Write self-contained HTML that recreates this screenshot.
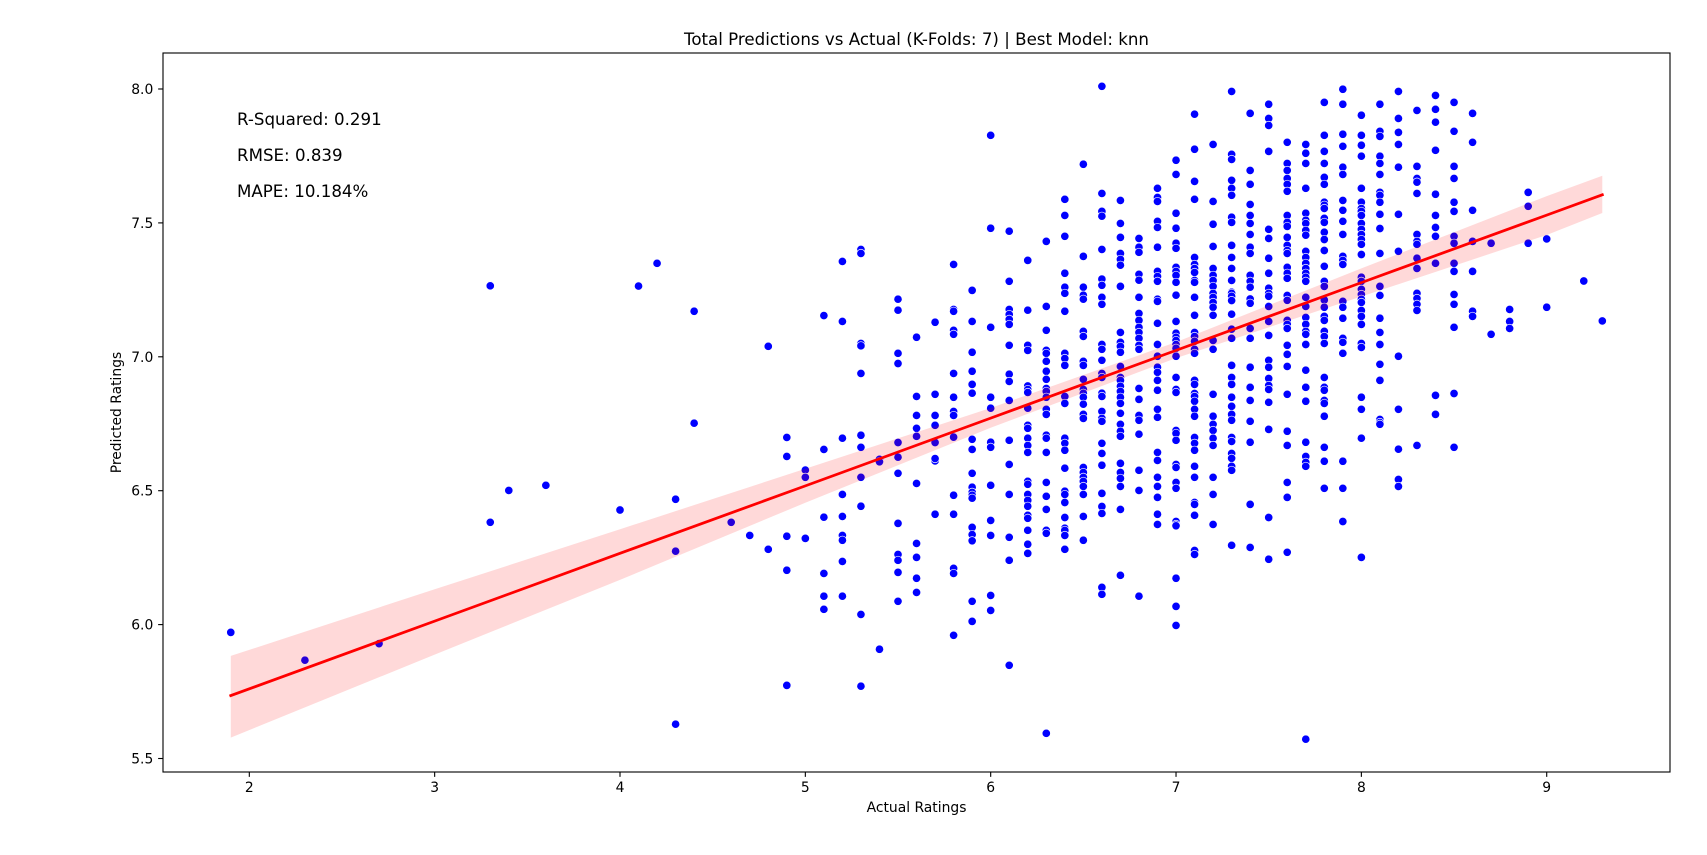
<!DOCTYPE html>
<html lang="en">
<head>
<meta charset="utf-8">
<title>Total Predictions vs Actual</title>
<style>
html,body{margin:0;padding:0;background:#fff;}
svg{display:block;}
text{font-family:"DejaVu Sans","Liberation Sans",sans-serif;fill:#000;}
</style>
</head>
<body>
<svg id="chart" xmlns="http://www.w3.org/2000/svg" width="1707" height="855" viewBox="0 0 1707 855">
  <rect x="0" y="0" width="1707" height="855" fill="#fff"/>
  <text x="916.5" y="45" font-size="16.67" text-anchor="middle">Total Predictions vs Actual (K-Folds: 7) | Best Model: knn</text>
  <g id="marks"></g>
  <rect x="163" y="53" width="1507" height="719" fill="none" stroke="#000" stroke-width="1.11"/>
  <g id="ticks"></g>
  <text x="916.5" y="812" font-size="13.89" text-anchor="middle">Actual Ratings</text>
  <text x="121" y="412.5" font-size="13.89" text-anchor="middle" transform="rotate(-90 121 412.5)">Predicted Ratings</text>
  <text x="237" y="125" font-size="16.67">R-Squared: 0.291</text>
  <text x="237" y="161" font-size="16.67">RMSE: 0.839</text>
  <text x="237" y="197" font-size="16.67">MAPE: 10.184%</text>
</svg>
<script>
const xTickLabels = ["2","3","4","5","6","7","8","9"];
const yTickLabels = ["5.5","6.0","6.5","7.0","7.5","8.0"];

const actualRatings = [1.9,2.3,2.7,3.3,3.4,3.6,4.0,4.1,4.2,4.3,4.4,4.6,4.7,4.8,4.9,5.0,5.1,5.2,5.3,5.4,5.5,5.6,5.7,5.8,5.9,6.0,6.1,6.2,6.3,6.4,6.5,6.6,6.7,6.8,6.9,7.0,7.1,7.2,7.3,7.4,7.5,7.6,7.7,7.8,7.9,8.0,8.1,8.2,8.3,8.4,8.5,8.6,8.7,8.8,8.9,9.0,9.2,9.3];

const predictedRatings = [
[5.971],
[5.867],
[5.929],
[7.265,6.382],
[6.501],
[6.52],
[6.428],
[7.264],
[7.349],
[6.468,6.274,5.628],
[7.17,6.752],
[6.382],
[6.333],
[7.039,6.281],
[6.699,6.628,6.33,6.203,5.773],
[6.577,6.55,6.322],
[7.154,6.654,6.401,6.191,6.106,6.057],
[7.356,7.132,6.696,6.486,6.404,6.333,6.315,6.236,6.106],
[7.401,7.386,7.05,7.041,6.938,6.707,6.662,6.55,6.442,6.038,5.77],
[6.617,6.608,5.908],
[7.215,7.174,7.013,6.975,6.68,6.625,6.565,6.378,6.262,6.24,6.195,6.087],
[7.073,6.852,6.781,6.733,6.703,6.527,6.303,6.251,6.173,6.12],
[7.129,6.86,6.781,6.744,6.68,6.611,6.62,6.412],
[7.345,7.177,7.17,7.099,7.084,6.938,6.849,6.796,6.781,6.7,6.483,6.412,6.21,6.191,5.96],
[7.248,7.132,7.017,6.946,6.897,6.864,6.692,6.654,6.565,6.513,6.494,6.483,6.472,6.363,6.336,6.313,6.087,6.012],
[7.827,7.48,7.11,6.849,6.808,6.681,6.662,6.52,6.389,6.333,6.109,6.053],
[7.469,7.282,7.177,7.158,7.14,7.121,7.043,6.935,6.908,6.837,6.688,6.598,6.486,6.326,6.24,5.848],
[7.36,7.174,7.043,7.024,6.891,6.878,6.867,6.808,6.744,6.733,6.696,6.669,6.643,6.535,6.524,6.486,6.464,6.442,6.408,6.397,6.352,6.3,6.266],
[7.431,7.188,7.099,7.024,7.013,6.983,6.946,6.916,6.882,6.871,6.849,6.804,6.785,6.707,6.696,6.643,6.531,6.479,6.43,6.352,6.341,5.594],
[7.588,7.528,7.45,7.312,7.26,7.237,7.17,7.013,6.994,6.968,6.852,6.826,6.696,6.677,6.651,6.584,6.498,6.486,6.456,6.4,6.36,6.352,6.333,6.281],
[7.719,7.375,7.26,7.23,7.215,7.095,7.076,6.983,6.968,6.916,6.878,6.864,6.849,6.823,6.785,6.77,6.587,6.568,6.55,6.535,6.516,6.486,6.404,6.315],
[8.01,7.61,7.543,7.525,7.401,7.29,7.267,7.222,7.196,7.046,7.028,6.987,6.938,6.923,6.864,6.852,6.796,6.77,6.759,6.677,6.639,6.595,6.49,6.441,6.415,6.139,6.113],
[7.584,7.498,7.446,7.386,7.364,7.342,7.263,7.091,7.054,7.039,7.017,6.964,6.923,6.912,6.89,6.871,6.849,6.826,6.789,6.748,6.722,6.703,6.602,6.568,6.546,6.516,6.43,6.184],
[7.442,7.409,7.39,7.308,7.286,7.222,7.162,7.136,7.11,7.091,7.069,7.043,7.028,6.882,6.841,6.781,6.763,6.711,6.576,6.501,6.106],
[7.629,7.595,7.58,7.506,7.483,7.409,7.319,7.3,7.282,7.215,7.207,7.125,7.046,7.002,6.961,6.942,6.912,6.875,6.804,6.774,6.643,6.613,6.55,6.516,6.475,6.412,6.374],
[7.734,7.681,7.536,7.48,7.424,7.405,7.334,7.319,7.304,7.278,7.23,7.132,7.088,7.073,7.061,7.046,7.032,7.002,6.923,6.878,6.867,6.725,6.714,6.688,6.598,6.587,6.531,6.509,6.385,6.374,6.369,6.173,6.068,5.997],
[7.906,7.775,7.655,7.588,7.371,7.345,7.33,7.315,7.285,7.278,7.222,7.155,7.091,7.076,7.058,7.028,7.013,6.912,6.897,6.863,6.852,6.834,6.804,6.778,6.699,6.677,6.651,6.591,6.55,6.456,6.449,6.408,6.277,6.262],
[7.793,7.58,7.495,7.412,7.33,7.304,7.285,7.263,7.237,7.222,7.203,7.185,7.155,7.061,7.028,6.86,6.778,6.748,6.725,6.696,6.669,6.55,6.486,6.374],
[7.991,7.756,7.737,7.659,7.629,7.603,7.521,7.502,7.416,7.371,7.33,7.285,7.241,7.229,7.237,7.226,7.21,7.159,7.103,7.069,6.968,6.923,6.897,6.849,6.815,6.785,6.763,6.699,6.684,6.639,6.621,6.591,6.576,6.296],
[7.909,7.696,7.644,7.569,7.528,7.498,7.457,7.409,7.386,7.304,7.282,7.26,7.216,7.2,7.106,7.069,6.961,6.886,6.837,6.759,6.681,6.449,6.288],
[7.943,7.89,7.864,7.767,7.476,7.442,7.368,7.312,7.256,7.237,7.226,7.188,7.132,7.08,6.987,6.961,6.919,6.893,6.878,6.83,6.729,6.4,6.244],
[7.801,7.722,7.696,7.666,7.644,7.618,7.528,7.502,7.487,7.446,7.416,7.397,7.386,7.334,7.312,7.293,7.229,7.211,7.136,7.121,7.106,7.043,7.009,6.964,6.86,6.722,6.669,6.531,6.475,6.27],
[7.793,7.76,7.722,7.629,7.536,7.51,7.498,7.472,7.454,7.394,7.371,7.349,7.33,7.312,7.297,7.282,7.222,7.188,7.147,7.121,7.095,7.084,7.046,6.95,6.886,6.834,6.681,6.628,6.606,6.591,5.572],
[7.95,7.827,7.767,7.722,7.67,7.644,7.577,7.566,7.554,7.517,7.502,7.465,7.438,7.397,7.338,7.282,7.263,7.212,7.185,7.151,7.136,7.095,7.076,7.05,6.923,6.886,6.875,6.837,6.826,6.778,6.662,6.61,6.509],
[7.999,7.943,7.831,7.786,7.708,7.681,7.584,7.547,7.506,7.457,7.375,7.36,7.345,7.207,7.185,7.144,7.069,7.054,7.013,6.61,6.509,6.385],
[7.902,7.827,7.79,7.749,7.629,7.577,7.554,7.543,7.528,7.498,7.476,7.457,7.438,7.42,7.382,7.297,7.282,7.252,7.233,7.215,7.203,7.173,7.151,7.121,7.05,7.035,6.849,6.804,6.696,6.251],
[7.943,7.842,7.823,7.749,7.722,7.681,7.614,7.603,7.577,7.532,7.479,7.386,7.263,7.229,7.144,7.091,7.046,6.972,6.912,6.766,6.755,6.748],
[7.991,7.89,7.838,7.793,7.708,7.532,7.394,7.002,6.804,6.655,6.542,6.516],
[7.92,7.711,7.666,7.652,7.61,7.457,7.431,7.42,7.368,7.33,7.237,7.218,7.196,7.173,6.669],
[7.976,7.924,7.876,7.771,7.607,7.528,7.483,7.45,7.349,6.856,6.785],
[7.95,7.842,7.711,7.666,7.577,7.543,7.45,7.424,7.349,7.319,7.233,7.196,7.11,6.863,6.662],
[7.909,7.801,7.547,7.431,7.319,7.17,7.151],
[7.424,7.084],
[7.177,7.132,7.106],
[7.614,7.562,7.424],
[7.44,7.185],
[7.283],
[7.134]
];

const fitRatings = [1.9,3,4,5,6,7,8,9,9.3];
const fitLine = [5.735,6.013,6.266,6.518,6.771,7.024,7.277,7.529,7.605];
const fitUpper = [5.883,6.132,6.356,6.582,6.809,7.055,7.33,7.6,7.676];
const fitLower = [5.578,5.888,6.167,6.455,6.735,6.995,7.225,7.455,7.537];

const SVG_NS = "http://www.w3.org/2000/svg";
const plotLeft = 163, plotRight = 1670, plotTop = 53, plotBottom = 772;
const xDomainMin = 1.5343, xDomainMax = 9.6652;
const yDomainMin = 5.4496, yDomainMax = 8.1344;

function xScale(v) {
  return plotLeft + (v - xDomainMin) / (xDomainMax - xDomainMin) * (plotRight - plotLeft);
}
function yScale(v) {
  return plotBottom - (v - yDomainMin) / (yDomainMax - yDomainMin) * (plotBottom - plotTop);
}
function make(tag, props) {
  const el = document.createElementNS(SVG_NS, tag);
  for (const k in props) el.setAttribute(k, props[k]);
  return el;
}

const marks = document.getElementById("marks");
const ticks = document.getElementById("ticks");

actualRatings.forEach(function (rating, i) {
  predictedRatings[i].forEach(function (pred) {
    const dot = make("circle", {
      cx: xScale(rating).toFixed(2),
      cy: yScale(pred).toFixed(2),
      r: 4.17,
      fill: "#0000ff",
      stroke: "#ffffff",
      "stroke-width": 0.67
    });
    
    
    marks.appendChild(dot);
  });
});

const upperPts = fitRatings.map(function (r, i) { return xScale(r).toFixed(2) + "," + yScale(fitUpper[i]).toFixed(2); });
const lowerPts = fitRatings.map(function (r, i) { return xScale(r).toFixed(2) + "," + yScale(fitLower[i]).toFixed(2); }).reverse();
const band = make("polygon", { points: upperPts.concat(lowerPts).join(" "), fill: "#ff0000", "fill-opacity": 0.15 });


marks.appendChild(band);

const linePts = fitRatings.map(function (r, i) { return xScale(r).toFixed(2) + "," + yScale(fitLine[i]).toFixed(2); });
const fit = make("polyline", { points: linePts.join(" "), fill: "none", stroke: "#ff0000", "stroke-width": 2.78, "stroke-linecap": "square" });


marks.appendChild(fit);

xTickLabels.forEach(function (label) {
  const px = xScale(parseFloat(label));
  const mark = make("line", { x1: px, x2: px, y1: plotBottom, y2: plotBottom + 4.86, stroke: "#000", "stroke-width": 1.11 });
  
  
  ticks.appendChild(mark);
  const txt = make("text", { x: px, y: plotBottom + 20, "font-size": 13.89, "text-anchor": "middle" });
  txt.textContent = label;
  
  
  ticks.appendChild(txt);
});

yTickLabels.forEach(function (label) {
  const py = yScale(parseFloat(label));
  const mark = make("line", { x1: plotLeft - 4.86, x2: plotLeft, y1: py, y2: py, stroke: "#000", "stroke-width": 1.11 });
  
  
  ticks.appendChild(mark);
  const txt = make("text", { x: plotLeft - 9.7, y: py + 5, "font-size": 13.89, "text-anchor": "end" });
  txt.textContent = label;
  
  
  ticks.appendChild(txt);
});
</script>
</body>
</html>
